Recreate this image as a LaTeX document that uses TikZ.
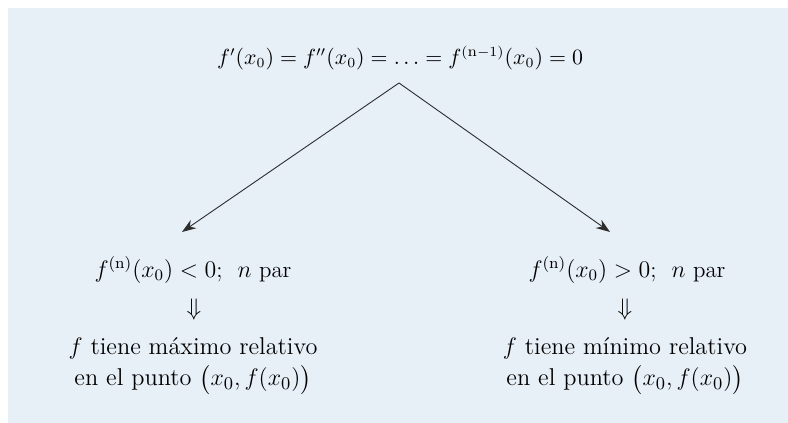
\documentclass[tikz,border=0pt]{standalone}
\usepackage{amsmath,amssymb}
\usepackage{fontspec}
\usepackage{tikz}
\usetikzlibrary{arrows.meta,positioning,calc}
\definecolor{panelcol}{RGB}{231,239,247}
\definecolor{arrcol}{RGB}{45,45,45}

\begin{document}
\begin{tikzpicture}[x=0.5bp,y=0.5bp,>=Stealth,
    txt/.style={font=\fontsize{11.5}{14}\selectfont,inner sep=0pt,align=center},
    restxt/.style={font=\fontsize{12.2}{14}\selectfont,inner sep=0pt,anchor=base},
    branch/.style={arrcol,line width=0.45pt,-{Stealth[length=7bp,width=5bp]}}]
  \useasboundingbox (0,0) rectangle (788,423);
  \fill[panelcol] (8,0) rectangle (788,415);
  % top condition
  \node[txt,font=\fontsize{10.7}{13}\selectfont] (top) at (400,365) {$f'(x_0) = f''(x_0) = \ldots = f^{(\mathrm{n}-1)}(x_0) = 0$};
  \coordinate (apex) at (399,340);
  % left branch
  \node[txt] (lcond) at (193,153) {$f^{(\mathrm{n})}(x_0) < 0$;\ \ $n$ par};
  \node[txt] (limp) at (194,113) {$\Downarrow$};
  \node[restxt] (lres1) at (193,68) {$f$ tiene máximo relativo};
  \node[restxt] (lres2) at (193,37) {en el punto $\bigl(x_0, f(x_0)\bigr)$};
  \coordinate (ltip) at (182,191);
  % right branch
  \node[txt] (rcond) at (627,153) {$f^{(\mathrm{n})}(x_0) > 0$;\ \ $n$ par};
  \node[txt] (rimp) at (625,113) {$\Downarrow$};
  \node[restxt] (rres1) at (625,68) {$f$ tiene mínimo relativo};
  \node[restxt] (rres2) at (625,37) {en el punto $\bigl(x_0, f(x_0)\bigr)$};
  \coordinate (rtip) at (610,191);
  % arrows
  \draw[branch] (apex) -- (ltip);
  \draw[branch] (apex) -- (rtip);
\end{tikzpicture}
\end{document}
